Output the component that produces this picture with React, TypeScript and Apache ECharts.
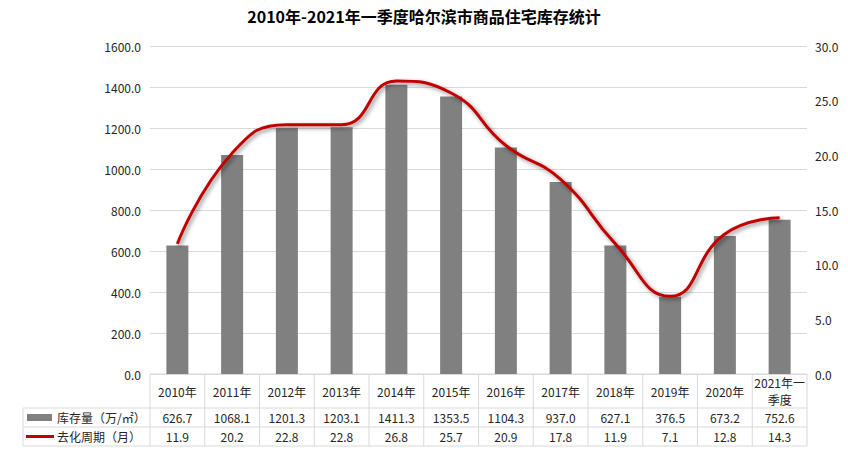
import React, { useEffect, useRef } from "react";
import * as echarts from "echarts";

const categories = ["2010年", "2011年", "2012年", "2013年", "2014年", "2015年", "2016年", "2017年", "2018年", "2019年", "2020年", "2021年一\n季度"];
const inventory = [626.7, 1068.1, 1201.3, 1203.1, 1411.3, 1353.5, 1104.3, 937.0, 627.1, 376.5, 673.2, 752.6];
const cycle = [11.9, 20.2, 22.8, 22.8, 26.8, 25.7, 20.9, 17.8, 11.9, 7.1, 12.8, 14.3];
const seriesNames = ["库存量（万/㎡）", "去化周期（月）"];
const title = "2010年-2021年一季度哈尔滨市商品住宅库存统计";

const FONT = "'Microsoft YaHei', 'Noto Sans CJK SC', sans-serif";
const GRID = { left: 150, right: 41, top: 46, bottom: 86 };
const W = 848, H = 460;
const BORDER = "#d9d9d9";
const TEXT = "#262626";

export default function App() {
  const ref = useRef<HTMLDivElement>(null);
  useEffect(() => {
    const chart = echarts.init(ref.current!, null, { renderer: "svg" });
    chart.setOption({
      animation: false,
      backgroundColor: "#fff",
      title: {
        text: title,
        left: "center",
        top: 3,
        textStyle: { fontFamily: FONT, fontSize: 16, fontWeight: "bold", color: "#000" },
      },
      grid: { ...GRID },
      xAxis: {
        type: "category",
        data: categories,
        axisLine: { show: false },
        axisTick: { show: false },
        axisLabel: { show: false },
      },
      yAxis: [
        {
          type: "value",
          min: 0,
          max: 1600,
          interval: 200,
          axisLine: { show: false },
          axisTick: { show: false },
          splitLine: { lineStyle: { color: BORDER, width: 1 } },
          axisLabel: {
            margin: 9,
            color: TEXT,
            fontFamily: FONT,
            fontSize: 12,
            formatter: (v: number) => v.toFixed(1),
          },
        },
        {
          type: "value",
          min: 0,
          max: 30,
          interval: 5,
          axisLine: { show: false },
          axisTick: { show: false },
          splitLine: { show: false },
          axisLabel: {
            margin: 8,
            color: TEXT,
            fontFamily: FONT,
            fontSize: 12,
            formatter: (v: number) => v.toFixed(1),
          },
        },
      ],
      series: [
        {
          name: seriesNames[0],
          type: "bar",
          data: inventory,
          barWidth: 22,
          itemStyle: { color: "#808080" },
        },
        {
          name: seriesNames[1],
          type: "line",
          yAxisIndex: 1,
          data: cycle,
          smooth: 0.5,
          symbol: "none",
          lineStyle: {
            color: "#C00000",
            width: 3,
            shadowColor: "rgba(0,0,0,0.45)",
            shadowBlur: 4,
            shadowOffsetX: 2,
            shadowOffsetY: 2,
          },
        },
      ],
    });

    // Build data table beneath the plot
    const top = H - GRID.bottom;
    const rowH = [34, 19, 19];
    const r1 = top + rowH[0];
    const r2 = r1 + rowH[1];
    const r3 = r2 + rowH[2];
    const right = W - GRID.right;
    const legendLeft = 23;
    const centers = categories.map((_, i) => chart.convertToPixel({ xAxisIndex: 0 }, i) as number);
    const step = (right - GRID.left) / categories.length;
    const els: any[] = [];
    const line = (x1: number, y1: number, x2: number, y2: number) =>
      els.push({ type: "line", shape: { x1, y1, x2, y2 }, style: { stroke: BORDER, lineWidth: 1 }, silent: true });
    line(GRID.left, top, right, top);
    line(legendLeft, r1, right, r1);
    line(legendLeft, r2, right, r2);
    line(legendLeft, r3, right, r3);
    line(legendLeft, r1, legendLeft, r3);
    for (let i = 0; i <= categories.length; i++) {
      const x = GRID.left + i * step;
      line(x, top, x, r3);
    }
    const txt = (t: string, x: number, y: number, align = "center") =>
      els.push({
        type: "text",
        x,
        y,
        silent: true,
        style: {
          text: t,
          align,
          verticalAlign: "middle",
          fill: TEXT,
          font: `12px ${FONT}`,
        },
      });
    categories.forEach((c, i) => {
      const parts = c.split("\n");
      const lh = 17;
      const y0 = top + rowH[0] / 2 - ((parts.length - 1) * lh) / 2;
      parts.forEach((p, k) => txt(p, centers[i], y0 + k * lh));
      txt(inventory[i].toFixed(1), centers[i], r1 + rowH[1] / 2);
      txt(cycle[i].toFixed(1), centers[i], r2 + rowH[2] / 2);
    });
    els.push({ type: "rect", shape: { x: 27, y: r1 + 6, width: 25, height: 7 }, style: { fill: "#808080" }, silent: true });
    els.push({ type: "line", shape: { x1: 26, y1: r2 + 9.5, x2: 54, y2: r2 + 9.5 }, style: { stroke: "#C00000", lineWidth: 3 }, silent: true });
    txt(seriesNames[0], 57, r1 + rowH[1] / 2, "left");
    txt(seriesNames[1], 57, r2 + rowH[2] / 2, "left");
    chart.setOption({ graphic: els });

    return () => chart.dispose();
  }, []);
  return <div ref={ref} style={{ width: W, height: H, position: "absolute", left: 0, top: 0 }} />;
}
